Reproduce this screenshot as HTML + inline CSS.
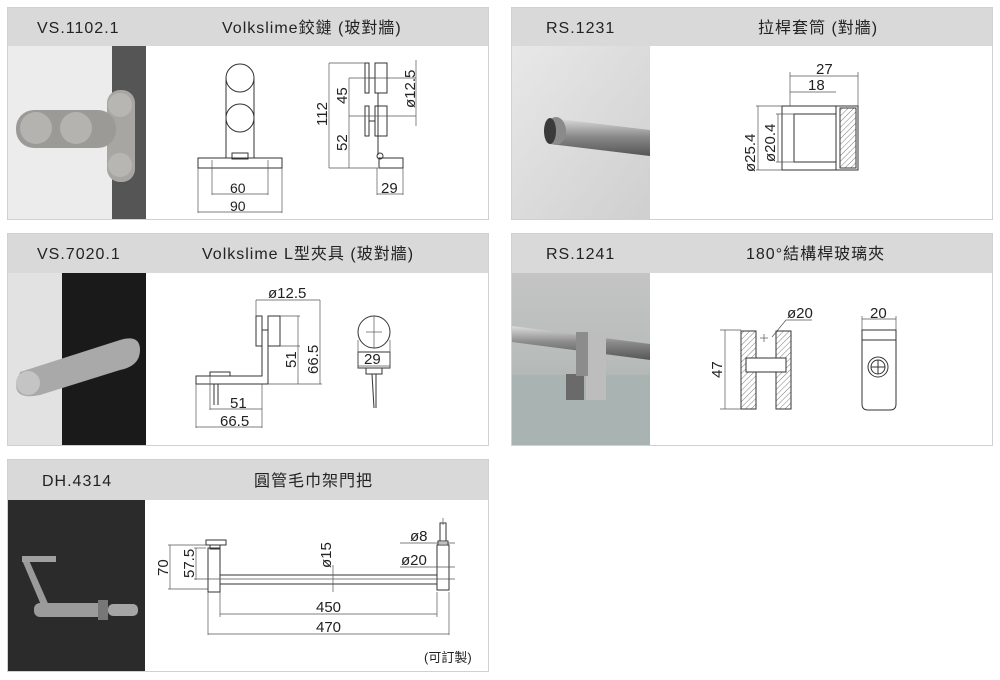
<!DOCTYPE html>
<html><head><meta charset="utf-8"><style>
body{margin:0;background:#fff;width:1000px;height:680px;overflow:hidden}
svg{display:block}
text{font-family:"Liberation Sans","Noto Sans CJK TC",sans-serif;fill:#222}
.h{font-size:16px;letter-spacing:1px}
.d{font-size:14px}
.l{stroke:#333;stroke-width:1;fill:none}
.t{stroke:#555;stroke-width:0.7;fill:none}
</style></head><body>
<svg width="1000" height="680" viewBox="0 0 1000 680">
<defs>
<linearGradient id="g2" x1="0" y1="0" x2="1" y2="1"><stop offset="0" stop-color="#e8e8e8"/><stop offset="1" stop-color="#cfcfcf"/></linearGradient>
<linearGradient id="rod" x1="0" y1="0" x2="0" y2="1"><stop offset="0" stop-color="#ddd"/><stop offset=".5" stop-color="#888"/><stop offset="1" stop-color="#555"/></linearGradient>
<linearGradient id="g4" x1="0" y1="0" x2="0" y2="1"><stop offset="0" stop-color="#c4c4c4"/><stop offset=".5" stop-color="#b8bcbb"/><stop offset="1" stop-color="#9fa8a6"/></linearGradient>
<pattern id="hat" width="4" height="4" patternUnits="userSpaceOnUse" patternTransform="rotate(45)"><line x1="0" y1="0" x2="0" y2="4" stroke="#444" stroke-width="0.7"/></pattern>
</defs>

<g fill="#fff" stroke="#d0d0d0">
<rect x="7.5" y="7.5" width="481" height="212"/>
<rect x="511.5" y="7.5" width="481" height="212"/>
<rect x="7.5" y="233.5" width="481" height="212"/>
<rect x="511.5" y="233.5" width="481" height="212"/>
<rect x="7.5" y="459.5" width="481" height="212"/>
</g>
<g fill="#d9d9d9">
<rect x="8" y="8" width="480" height="38"/>
<rect x="512" y="8" width="480" height="38"/>
<rect x="8" y="234" width="480" height="39"/>
<rect x="512" y="234" width="480" height="39"/>
<rect x="8" y="460" width="480" height="40"/>
</g>
<text class="h" x="37" y="33">VS.1102.1</text>
<text class="h" x="222" y="33">Volkslime鉸鏈 (玻對牆)</text>
<text class="h" x="546" y="33">RS.1231</text>
<text class="h" x="758" y="33">拉桿套筒 (對牆)</text>
<text class="h" x="37" y="259">VS.7020.1</text>
<text class="h" x="202" y="259">Volkslime L型夾具 (玻對牆)</text>
<text class="h" x="546" y="259">RS.1241</text>
<text class="h" x="746" y="259">180°結構桿玻璃夾</text>
<text class="h" x="42" y="486">DH.4314</text>
<text class="h" x="254" y="486">圓管毛巾架門把</text>

<!-- Photo 1 -->
<rect x="8" y="46" width="104" height="173" fill="#ececec"/>
<rect x="112" y="46" width="34" height="173" fill="#555"/>
<rect x="107" y="90" width="28" height="92" rx="13" fill="#a8a6a3"/>
<rect x="16" y="110" width="100" height="38" rx="18" fill="#9c9a97"/>
<circle cx="36" cy="128" r="16" fill="#b5b3b0"/><circle cx="76" cy="128" r="16" fill="#b5b3b0"/>
<circle cx="120" cy="105" r="12" fill="#b8b6b3"/><circle cx="120" cy="165" r="12" fill="#b8b6b3"/>

<g class="l">
<circle cx="240" cy="78" r="14"/><circle cx="240" cy="118" r="14"/>
<line x1="226" y1="78" x2="226" y2="158"/><line x1="254" y1="78" x2="254" y2="158"/>
<rect x="198" y="158" width="84" height="10"/>
<rect x="232" y="153" width="16" height="6"/>
</g>
<g class="t">
<line x1="198" y1="168" x2="198" y2="213"/><line x1="282" y1="168" x2="282" y2="213"/>
<line x1="212" y1="160" x2="212" y2="195"/><line x1="268" y1="160" x2="268" y2="195"/>
<line x1="212" y1="194" x2="268" y2="194"/><line x1="198" y1="212" x2="282" y2="212"/>
</g>
<text class="d" x="230" y="193">60</text><text class="d" x="230" y="211">90</text>
<g class="l">
<rect x="365" y="63" width="4" height="30"/><rect x="375" y="63" width="12" height="30"/>
<rect x="365" y="106" width="4" height="30"/><rect x="375" y="106" width="12" height="30"/>
<line x1="369" y1="78" x2="375" y2="78"/><line x1="369" y1="121" x2="375" y2="121"/>
<line x1="378" y1="93" x2="378" y2="155"/>
<circle cx="380" cy="156" r="3"/>
<rect x="379" y="158" width="24" height="10"/>
</g>
<g class="t">
<line x1="329" y1="63" x2="365" y2="63"/><line x1="329" y1="63" x2="329" y2="168"/><line x1="329" y1="168" x2="378" y2="168"/>
<line x1="349" y1="78" x2="387" y2="78"/><line x1="349" y1="78" x2="349" y2="168"/><line x1="349" y1="116" x2="416" y2="116"/>
<line x1="387" y1="78" x2="416" y2="78"/><line x1="416" y1="60" x2="416" y2="126"/>
<line x1="377" y1="168" x2="377" y2="195"/><line x1="403" y1="168" x2="403" y2="195"/><line x1="377" y1="194" x2="403" y2="194"/>
</g>
<text class="d" style="font-size:15px" transform="translate(327,126) rotate(-90)">112</text>
<text class="d" style="font-size:15px" transform="translate(347,104) rotate(-90)">45</text>
<text class="d" style="font-size:15px" transform="translate(347,151) rotate(-90)">52</text>
<text class="d" style="font-size:15px" transform="translate(415,108) rotate(-90)">ø12.5</text>
<text class="d" style="font-size:15px" x="381" y="193">29</text>

<!-- Photo 2 -->
<rect x="512" y="46" width="138" height="173" fill="url(#g2)"/>
<polygon points="550,118 650,130 650,156 550,144" fill="url(#rod)"/>
<ellipse cx="556" cy="131" rx="10" ry="14" fill="#8a8a8a"/>
<ellipse cx="550" cy="131" rx="6" ry="13" fill="#3a3a3a"/>
<g class="l">
<rect x="782" y="106" width="76" height="64"/>
<line x1="794" y1="114" x2="836" y2="114"/><line x1="794" y1="162" x2="836" y2="162"/>
<line x1="794" y1="114" x2="794" y2="162"/><line x1="836" y1="114" x2="836" y2="162"/>
<line x1="836" y1="106" x2="836" y2="170"/>
</g>
<rect x="840" y="108" width="16" height="60" fill="url(#hat)" stroke="#333"/>
<g class="t">
<line x1="756" y1="106" x2="782" y2="106"/><line x1="756" y1="170" x2="782" y2="170"/><line x1="758" y1="106" x2="758" y2="170"/>
<line x1="776" y1="114" x2="794" y2="114"/><line x1="776" y1="162" x2="794" y2="162"/><line x1="778" y1="114" x2="778" y2="162"/>
<line x1="790" y1="76" x2="858" y2="76"/><line x1="790" y1="92" x2="836" y2="92"/>
<line x1="790" y1="72" x2="790" y2="106"/><line x1="858" y1="72" x2="858" y2="106"/>
</g>
<text class="d" style="font-size:15px" x="816" y="74">27</text><text class="d" style="font-size:15px" x="808" y="90">18</text>
<text class="d" style="font-size:15px" transform="translate(755,172) rotate(-90)">ø25.4</text>
<text class="d" style="font-size:15px" transform="translate(775,162) rotate(-90)">ø20.4</text>

<!-- Photo 3 -->
<rect x="8" y="273" width="54" height="172" fill="#e2e2e2"/>
<rect x="62" y="273" width="84" height="172" fill="#1a1a1a"/>
<path d="M20,372 L120,340 Q140,334 140,350 Q140,366 120,370 L40,395 Q16,400 16,385Z" fill="#a9a9a9"/>
<circle cx="28" cy="383" r="12" fill="#c4c4c4"/>
<g class="l">
<path d="M196,376 L262,376 L262,330 L268,330 L268,384 L196,384 Z"/>
<rect x="256" y="316" width="6" height="30"/><rect x="268" y="316" width="12" height="30"/>
<rect x="210" y="372" width="20" height="4"/>
<line x1="214" y1="384" x2="214" y2="405"/><line x1="218" y1="384" x2="218" y2="405"/>
<circle cx="374" cy="332" r="16"/>
<rect x="358" y="352" width="32" height="16"/><rect x="366" y="368" width="16" height="6"/>
<line x1="372" y1="374" x2="374" y2="408"/><line x1="376" y1="374" x2="376" y2="408"/>
</g>
<g class="t">
<line x1="256" y1="300" x2="320" y2="300"/><line x1="256" y1="300" x2="256" y2="316"/><line x1="320" y1="300" x2="320" y2="316"/>
<line x1="280" y1="316" x2="300" y2="316"/><line x1="280" y1="346" x2="300" y2="346"/><line x1="298" y1="316" x2="298" y2="384"/>
<line x1="320" y1="316" x2="320" y2="384"/><line x1="268" y1="384" x2="322" y2="384"/>
<line x1="196" y1="384" x2="196" y2="428"/><line x1="262" y1="384" x2="262" y2="428"/>
<line x1="210" y1="376" x2="210" y2="410"/>
<line x1="210" y1="409" x2="262" y2="409"/><line x1="196" y1="427" x2="262" y2="427"/>
<line x1="358" y1="340" x2="358" y2="368"/><line x1="390" y1="340" x2="390" y2="368"/><line x1="358" y1="366" x2="390" y2="366"/>
<line x1="374" y1="316" x2="374" y2="348"/><line x1="366" y1="332" x2="382" y2="332"/>
</g>
<text class="d" style="font-size:15px" x="268" y="298">ø12.5</text>
<text class="d" style="font-size:15px" transform="translate(296,368) rotate(-90)">51</text>
<text class="d" style="font-size:15px" transform="translate(318,374) rotate(-90)">66.5</text>
<text class="d" style="font-size:15px" x="364" y="364">29</text>
<text class="d" style="font-size:15px" x="230" y="408">51</text><text class="d" style="font-size:15px" x="220" y="426">66.5</text>

<!-- Photo 4 -->
<rect x="512" y="273" width="138" height="172" fill="url(#g4)"/>
<rect x="512" y="375" width="138" height="70" fill="#a9b3b1"/>
<polygon points="512,326 650,344 650,360 512,342" fill="url(#rod)"/>
<rect x="566" y="374" width="18" height="26" fill="#6a6a6a"/>
<rect x="586" y="332" width="20" height="68" fill="#bdbdbd"/>
<rect x="576" y="332" width="12" height="44" fill="#8c8c8c"/>
<rect x="741" y="331" width="15" height="78" fill="url(#hat)" stroke="#333"/>
<rect x="776" y="331" width="15" height="78" fill="url(#hat)" stroke="#333"/>
<rect x="746" y="358" width="40" height="14" fill="#fff" stroke="#333"/>
<g class="t">
<line x1="720" y1="330" x2="741" y2="330"/><line x1="720" y1="409" x2="741" y2="409"/><line x1="725" y1="330" x2="725" y2="409"/>
<line x1="772" y1="337" x2="786" y2="320"/><line x1="786" y1="320" x2="812" y2="320"/>
<line x1="760" y1="338" x2="768" y2="338"/><line x1="764" y1="334" x2="764" y2="342"/>
<line x1="862" y1="319" x2="896" y2="319"/><line x1="862" y1="316" x2="862" y2="330"/><line x1="896" y1="316" x2="896" y2="330"/>
</g>
<text class="d" style="font-size:15px" x="787" y="318">ø20</text>
<text class="d" style="font-size:15px" transform="translate(722,378) rotate(-90)">47</text>
<text class="d" style="font-size:15px" x="870" y="318">20</text>
<g class="l">
<path d="M862,330 L896,330 L896,404 Q896,410 890,410 L868,410 Q862,410 862,404 Z"/>
<line x1="862" y1="340" x2="896" y2="340"/>
<circle cx="878" cy="367" r="10"/><circle cx="878" cy="367" r="7"/>
<line x1="871" y1="367" x2="885" y2="367"/><line x1="878" y1="360" x2="878" y2="374"/>
</g>

<!-- Photo 5 -->
<rect x="8" y="500" width="137" height="171" fill="#2b2b2b"/>
<polygon points="22,560 28,558 50,608 44,612" fill="#9a9a9a"/>
<rect x="22" y="556" width="34" height="6" fill="#a0a0a0"/>
<rect x="34" y="603" width="70" height="14" rx="6" fill="#9b9b9b"/>
<rect x="98" y="600" width="10" height="20" fill="#777"/>
<rect x="108" y="604" width="30" height="12" rx="5" fill="#a5a5a5"/>
<g class="l">
<rect x="208" y="548" width="12" height="44"/>
<rect x="206" y="540" width="20" height="5"/><rect x="210" y="545" width="10" height="4"/>
<line x1="220" y1="575" x2="437" y2="575"/><line x1="220" y1="584" x2="437" y2="584"/>
<rect x="437" y="545" width="12" height="45"/>
<rect x="440" y="523" width="6" height="18"/><rect x="438" y="541" width="10" height="4"/>
</g>
<g class="t">
<line x1="168" y1="545" x2="206" y2="545"/><line x1="170" y1="545" x2="170" y2="589"/><line x1="168" y1="589" x2="208" y2="589"/>
<line x1="194" y1="548" x2="206" y2="548"/><line x1="196" y1="548" x2="196" y2="580"/><line x1="194" y1="579" x2="455" y2="579"/>
<line x1="333" y1="565" x2="333" y2="592"/>
<line x1="220" y1="592" x2="220" y2="617"/><line x1="437" y1="592" x2="437" y2="617"/><line x1="220" y1="614" x2="437" y2="614"/>
<line x1="208" y1="592" x2="208" y2="635"/><line x1="449" y1="592" x2="449" y2="635"/><line x1="208" y1="634" x2="449" y2="634"/>
<line x1="400" y1="543" x2="455" y2="543"/><line x1="400" y1="567" x2="455" y2="567"/>
<line x1="443" y1="518" x2="443" y2="525"/>
</g>
<text class="d" style="font-size:15px" transform="translate(168,576) rotate(-90)">70</text>
<text class="d" style="font-size:15px" transform="translate(194,578) rotate(-90)">57.5</text>
<text class="d" style="font-size:15px" transform="translate(331,568) rotate(-90)">ø15</text>
<text class="d" style="font-size:15px" x="410" y="541">ø8</text>
<text class="d" style="font-size:15px" x="401" y="565">ø20</text>
<text class="d" style="font-size:15px" x="316" y="612">450</text>
<text class="d" style="font-size:15px" x="316" y="632">470</text>
<text class="d" style="font-size:13px" x="424" y="662">(可訂製)</text>
</svg>
</body></html>
